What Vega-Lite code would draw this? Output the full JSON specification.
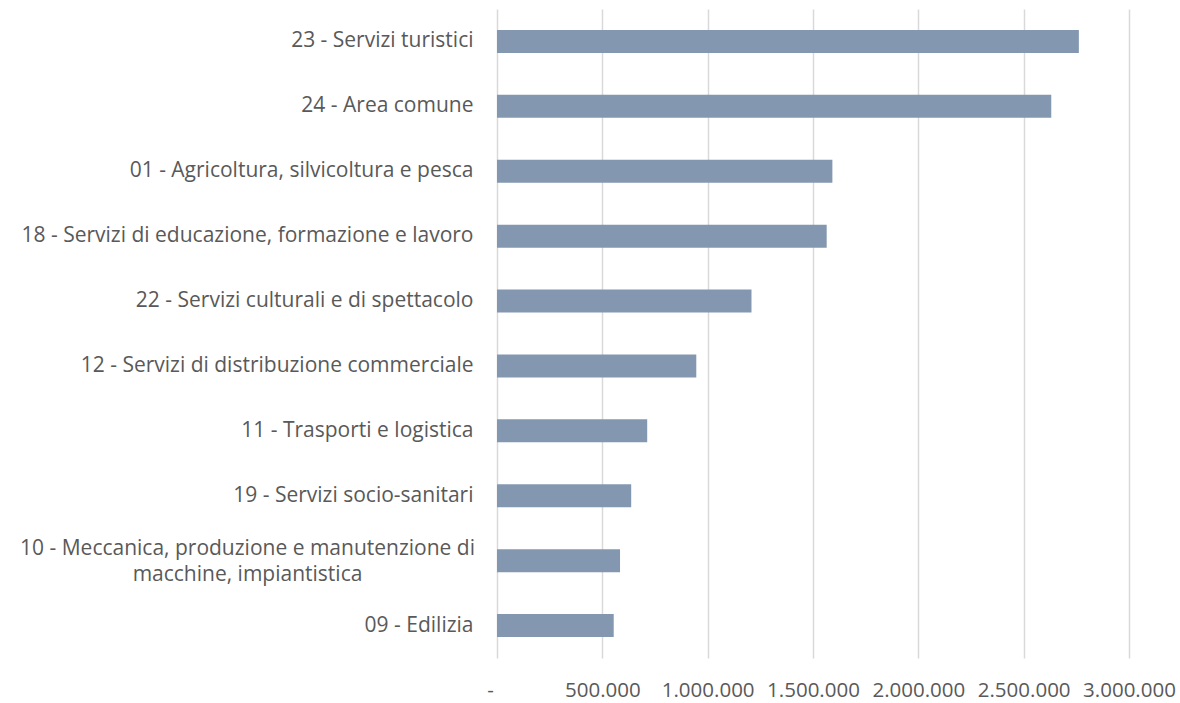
{
  "$schema": "https://vega.github.io/schema/vega-lite/v6.json",
  "autosize": "none",
  "padding": {"left": 497, "top": 9, "right": 51, "bottom": 45},
  "width": 632,
  "height": 649,
  "background": "white",
  "config": {
    "locale": {"number": {"decimal": ",", "thousands": ".", "grouping": [3], "currency": ["€", ""]}},
    "view": {"stroke": null},
    "font": "Open Sans"
  },
  "data": {
    "values": [
      {"settore": "23 - Servizi turistici", "valore": 2762000},
      {"settore": "24 - Area comune", "valore": 2631000},
      {"settore": "01 - Agricoltura, silvicoltura e pesca", "valore": 1592000},
      {"settore": "18 - Servizi di educazione, formazione e lavoro", "valore": 1565000},
      {"settore": "22 - Servizi culturali e di spettacolo", "valore": 1208000},
      {"settore": "12 - Servizi di distribuzione commerciale", "valore": 946000},
      {"settore": "11 - Trasporti e logistica", "valore": 713000},
      {"settore": "19 - Servizi socio-sanitari", "valore": 637000},
      {"settore": "10 - Meccanica, produzione e manutenzione di|macchine, impiantistica", "valore": 584000},
      {"settore": "09 - Edilizia", "valore": 554000}
    ]
  },
  "mark": {"type": "bar", "color": "#8497B0"},
  "encoding": {
    "y": {
      "field": "settore",
      "type": "nominal",
      "sort": "-x",
      "scale": {"paddingInner": 0.646, "paddingOuter": 0.323},
      "axis": {
        "title": null,
        "domain": false,
        "ticks": false,
        "grid": false,
        "labelFont": "Open Sans",
        "labelFontSize": 21,
        "labelColor": "#595959",
        "labelPadding": {"condition": {"test": "indexof(datum.value, '|') >= 0", "value": 250}, "value": 24},
        "labelAlign": {"condition": {"test": "indexof(datum.value, '|') >= 0", "value": "center"}, "value": "right"},
        "labelLimit": 600,
        "labelLineHeight": 26,
        "labelOffset": {"condition": {"test": "indexof(datum.value, '|') >= 0", "value": -12}, "value": 0},
        "labelExpr": "indexof(datum.label, '|') >= 0 ? split(datum.label, '|') : datum.label"
      }
    },
    "x": {
      "field": "valore",
      "type": "quantitative",
      "scale": {"domain": [0, 3000000], "nice": false},
      "axis": {
        "title": null,
        "domain": false,
        "ticks": false,
        "grid": true,
        "gridColor": "#D9D9D9",
        "gridWidth": 1.5,
        "values": [0, 500000, 1000000, 1500000, 2000000, 2500000, 3000000],
        "format": ",.0f",
        "labelExpr": "datum.value === 0 ? '-' : datum.label",
        "labelOffset": {"condition": {"test": "datum.value === 0", "value": -7}, "value": 0},
        "labelFont": "Open Sans",
        "labelFontSize": 20.5,
        "labelColor": "#595959",
        "labelPadding": 22,
        "labelFlush": false,
        "labelOverlap": false
      }
    }
  }
}
